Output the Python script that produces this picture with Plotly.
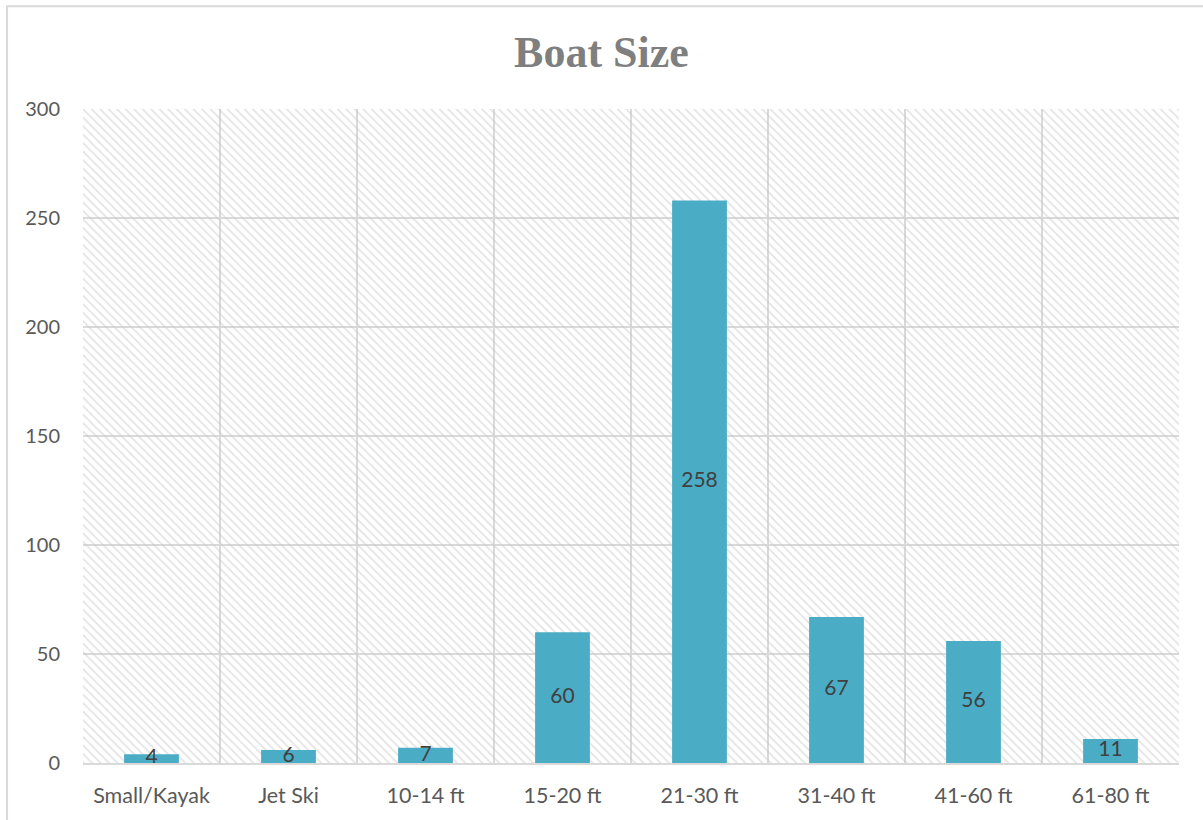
import plotly.graph_objects as go

categories = ["Small/Kayak", "Jet Ski", "10-14 ft", "15-20 ft", "21-30 ft", "31-40 ft", "41-60 ft", "61-80 ft"]
counts = [4, 6, 7, 60, 258, 67, 56, 11]
y_ticks = [0, 50, 100, 150, 200, 250, 300]
y_max = 300

BAR = "#4bacc6"
GRID = "#d9d9d9"
FONT = "Lato, Open Sans, sans-serif"

fig = go.Figure()

# hatched plot-area background, drawn as full-height bars
fig.add_bar(
    x=categories, y=[y_max] * len(categories), width=1,
    marker=dict(color="rgba(0,0,0,0)", line_width=0,
                pattern=dict(shape="\\", fgcolor="#c8c8c8", bgcolor="rgba(0,0,0,0)", size=6, solidity=0.3)),
    hoverinfo="skip", showlegend=False,
)
fig.add_bar(x=categories, y=counts, width=0.4, marker=dict(color=BAR, line_width=0), showlegend=False)

# labels centred on each bar
fig.add_trace(go.Scatter(
    x=categories, y=[c / 2 for c in counts], mode="text", text=[str(c) for c in counts],
    textfont=dict(family=FONT, size=21, color="#404040"),
    hoverinfo="skip", showlegend=False,
))

fig.update_layout(
    width=1203, height=820,
    barmode="overlay",
    paper_bgcolor="white", plot_bgcolor="white",
    margin=dict(l=83, r=24, t=109, b=55),
    title=dict(text="<b>Boat Size</b>", x=0.5, xanchor="center", y=0.937, yanchor="middle",
               font=dict(family="Liberation Serif, DejaVu Serif, serif", size=44, color="#7f7f7f")),
    xaxis=dict(tickson="boundaries", showgrid=True, gridcolor=GRID, gridwidth=2,
               showline=True, linecolor=GRID, linewidth=2, ticks="", ticklabelstandoff=12,
               tickfont=dict(family=FONT, size=21.5, color="#595959")),
    yaxis=dict(range=[0, y_max], tickvals=y_ticks, showgrid=True, gridcolor=GRID, gridwidth=2,
               zeroline=False, ticks="", ticklabelstandoff=22,
               tickfont=dict(family=FONT, size=20, color="#595959")),
    shapes=[dict(type="rect", xref="paper", yref="paper", x0=-0.0693, x1=1.03, y0=-0.1, y1=1.157,
                 line=dict(color=GRID, width=2), fillcolor="rgba(0,0,0,0)", layer="below")],
)

fig.write_html("out.html", config={"displayModeBar": False},
               post_script="document.body.style.margin='0';")
